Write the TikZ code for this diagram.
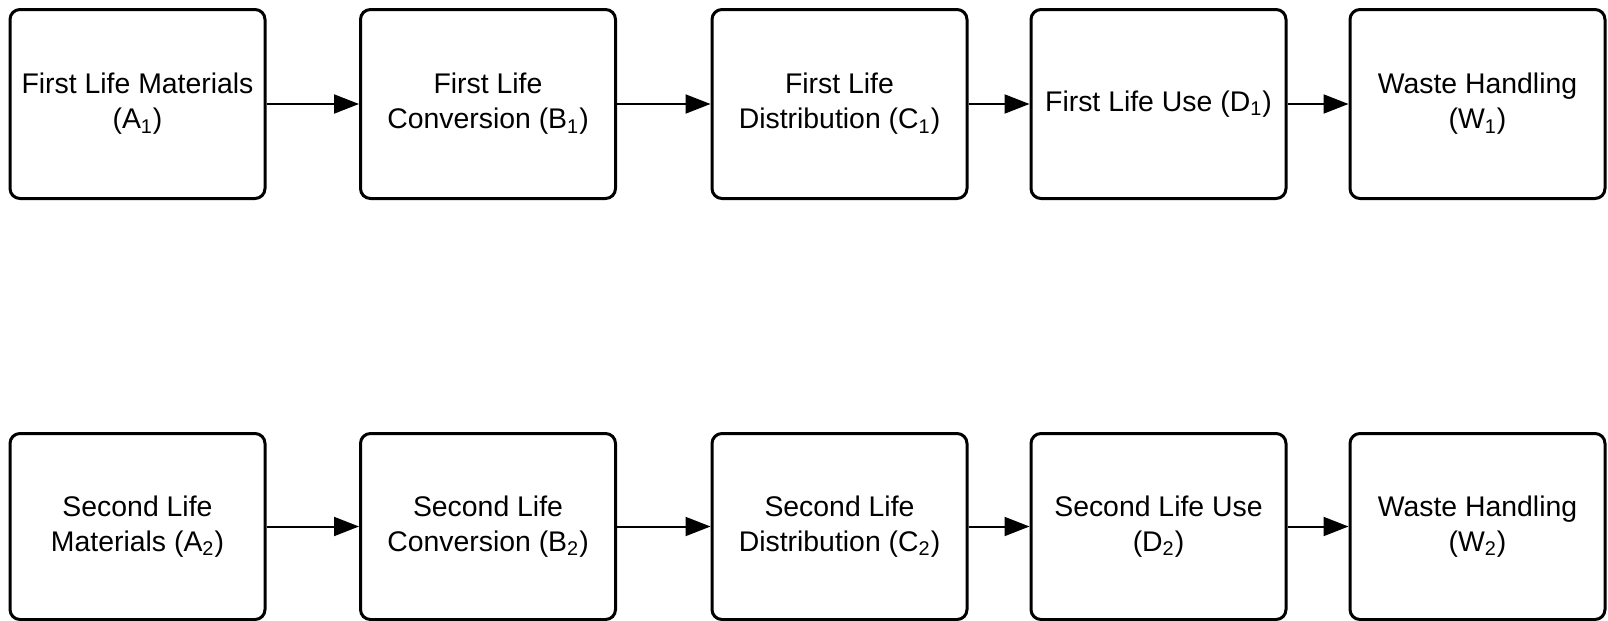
\documentclass[tikz,border=0pt]{standalone}
\usepackage{fontspec}
\setmainfont{Liberation Sans}
\usetikzlibrary{arrows.meta}
\tikzset{
  stage/.style={draw=black, line width=1.5pt, rounded corners=5pt,
    minimum width=127.5pt, minimum height=94.5pt, align=center,
    font=\fontsize{14.2pt}{17.5pt}\selectfont, inner sep=2pt},
  lowstage/.style={stage, minimum height=93pt},
  flow/.style={line width=1pt, -{Triangle[length=12.5pt,width=9.5pt]}}
}
\newcommand{\sub}[1]{\textsubscript{#1}}
\begin{document}
\begin{tikzpicture}[x=0.5pt, y=-0.5pt]
  \useasboundingbox (0,0) rectangle (1608,621);
  % first life chain
  \node[stage] (a1) at (137.5,104) {First Life Materials\\(A\sub{1})};
  \node[stage] (b1) at (488,104) {First Life\\Conversion (B\sub{1})};
  \node[stage] (c1) at (839.5,104) {First Life\\Distribution (C\sub{1})};
  \node[stage] (d1) at (1158.5,104) {First Life Use (D\sub{1})};
  \node[stage] (w1) at (1477.5,104) {Waste Handling\\(W\sub{1})};
  % second life chain
  \node[lowstage] (a2) at (137.5,526.5) {Second Life\\Materials (A\sub{2})};
  \node[lowstage] (b2) at (488,526.5) {Second Life\\Conversion (B\sub{2})};
  \node[lowstage] (c2) at (839.5,526.5) {Second Life\\Distribution (C\sub{2})};
  \node[lowstage] (d2) at (1158.5,526.5) {Second Life Use\\(D\sub{2})};
  \node[lowstage] (w2) at (1477.5,526.5) {Waste Handling\\(W\sub{2})};
  % connectors
  \foreach \p/\q in {a1/b1, b1/c1, c1/d1, d1/w1, a2/b2, b2/c2, c2/d2, d2/w2}
    \draw[flow] (\p) -- (\q);
\end{tikzpicture}
\end{document}
